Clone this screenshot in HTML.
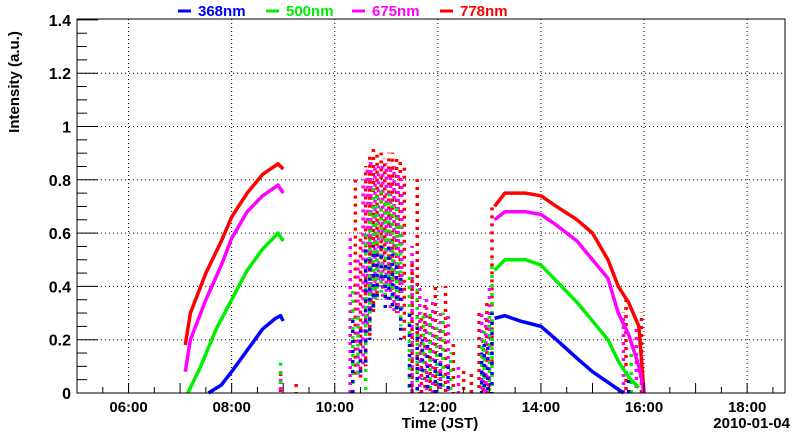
<!DOCTYPE html>
<html><head><meta charset="utf-8"><style>
body{margin:0;background:#fff;}
svg text{font-family:"Liberation Sans",sans-serif;font-weight:bold;}
</style></head><body>
<svg id="chart" width="800" height="434" xmlns="http://www.w3.org/2000/svg">
<g id="grid"></g>
<g id="data"></g>
<g id="axes"></g>
<g id="legend"></g>
<text transform="translate(19,82) rotate(-90)" text-anchor="middle" font-size="15">Intensity (a.u.)</text>
<text x="440" y="428" text-anchor="middle" font-size="15">Time (JST)</text>
<text x="790" y="428" text-anchor="end" font-size="15">2010-01-04</text>
</svg>
<script>
const series = ["368nm","500nm","675nm","778nm"];
const colors = ["#0000ff","#00ee00","#ff00ff","#ff0000"];
const yTicks = [0,0.2,0.4,0.6,0.8,1,1.2,1.4];
const yTickLabels = ["0","0.2","0.4","0.6","0.8","1","1.2","1.4"];
const xTicks = [6,8,10,12,14,16,18];
const xTickLabels = ["06:00","08:00","10:00","12:00","14:00","16:00","18:00"];
// smooth segments [time(h), value]
const blueMorning = [[7.55,0],[7.8,0.03],[8.0,0.08],[8.3,0.16],[8.6,0.24],[8.85,0.28],[8.95,0.29],[9.0,0.27]];
const greenMorning = [[7.15,0],[7.4,0.1],[7.7,0.24],[8.0,0.35],[8.3,0.46],[8.6,0.54],[8.9,0.6],[9.0,0.57]];
const magentaMorning = [[7.1,0.08],[7.2,0.2],[7.5,0.35],[7.8,0.48],[8.0,0.58],[8.3,0.68],[8.6,0.74],[8.9,0.78],[9.0,0.75]];
const redMorning = [[7.1,0.18],[7.2,0.3],[7.5,0.45],[7.8,0.57],[8.0,0.66],[8.3,0.75],[8.6,0.82],[8.9,0.86],[9.0,0.84]];
const blueAfternoon = [[13.1,0.28],[13.3,0.29],[13.6,0.27],[14.0,0.25],[14.3,0.2],[14.7,0.13],[15.0,0.08],[15.3,0.04],[15.6,0.0]];
const greenAfternoon = [[13.1,0.46],[13.3,0.5],[13.7,0.5],[14.0,0.48],[14.3,0.42],[14.7,0.34],[15.0,0.27],[15.3,0.2],[15.5,0.12],[15.7,0.06],[15.9,0.02]];
const magentaAfternoon = [[13.1,0.65],[13.3,0.68],[13.7,0.68],[14.0,0.67],[14.3,0.63],[14.7,0.57],[15.0,0.5],[15.3,0.43],[15.5,0.3],[15.7,0.22],[15.9,0.1],[16.0,0]];
const redAfternoon = [[13.1,0.7],[13.3,0.75],[13.7,0.75],[14.0,0.74],[14.3,0.7],[14.7,0.65],[15.0,0.6],[15.3,0.5],[15.5,0.4],[15.7,0.34],[15.9,0.25],[16.0,0]];
// scattered streaks [time, low, high]
const blueStreaks = [[10.35,0,0.3],[10.5,0.05,0.25],[10.6,0.1,0.55],[10.68,0.2,0.5],[10.75,0.3,0.55],[10.82,0.35,0.52],[10.9,0.4,0.55],[10.98,0.3,0.5],[11.05,0.35,0.55],[11.12,0.3,0.52],[11.2,0.3,0.5],[11.28,0.2,0.45],[11.45,0,0.3],[11.6,0,0.25],[11.7,0.05,0.2],[11.8,0,0.2],[11.95,0,0.15],[12.05,0,0.15],[12.2,0,0.1],[12.85,0,0.15],[12.9,0,0.2],[12.97,0,0.18],[13.05,0,0.3],[13.5,0.28,0.28],[15.7,0,0.05]];
const greenStreaks = [[10.35,0,0.4],[10.45,0.05,0.3],[10.6,0,0.6],[10.68,0.2,0.7],[10.75,0.3,0.78],[10.82,0.35,0.75],[10.9,0.35,0.78],[10.98,0.35,0.72],[11.05,0.4,0.75],[11.12,0.3,0.72],[11.2,0.3,0.7],[11.28,0.25,0.65],[11.45,0,0.45],[11.6,0,0.4],[11.72,0.05,0.3],[11.85,0,0.3],[11.98,0,0.25],[12.1,0,0.3],[12.25,0,0.15],[12.85,0,0.2],[12.9,0,0.25],[13.0,0,0.3],[13.05,0,0.5],[8.95,0.02,0.12],[15.75,0,0.15]];
const magentaStreaks = [[10.3,0,0.6],[10.45,0.05,0.5],[10.55,0.1,0.8],[10.63,0.2,0.85],[10.7,0.3,0.88],[10.78,0.35,0.86],[10.85,0.4,0.85],[10.93,0.35,0.87],[11.0,0.35,0.86],[11.08,0.3,0.85],[11.15,0.3,0.85],[11.23,0.3,0.82],[11.3,0.3,0.8],[11.5,0,0.55],[11.65,0,0.4],[11.78,0,0.35],[11.9,0,0.35],[12.05,0,0.3],[12.2,0,0.3],[12.4,0,0.1],[12.85,0,0.3],[12.93,0,0.28],[13.0,0,0.4],[8.95,0,0.1],[15.6,0,0.3],[15.85,0,0.25]];
const redStreaks = [[10.3,0,0.5],[10.4,0.05,0.8],[10.5,0.05,0.6],[10.6,0.1,0.85],[10.68,0.2,0.9],[10.75,0.3,0.92],[10.82,0.35,0.9],[10.9,0.4,0.9],[10.97,0.4,0.88],[11.05,0.4,0.9],[11.12,0.35,0.9],[11.2,0.3,0.88],[11.27,0.3,0.87],[11.35,0.2,0.85],[11.5,0,0.5],[11.6,0,0.8],[11.68,0,0.3],[11.75,0,0.35],[11.85,0,0.3],[11.95,0,0.4],[12.05,0,0.25],[12.15,0,0.4],[12.3,0,0.2],[12.5,0,0.1],[12.65,0,0.08],[12.8,0,0.3],[12.88,0,0.2],[12.95,0,0.35],[13.05,0.1,0.7],[8.95,0,0.08],[9.25,0,0.04],[15.65,0,0.35],[15.95,0,0.3]];

const NS="http://www.w3.org/2000/svg";
const L=77,R=785,T=19,B=393;
const X=h=>L+(h-5)*51.55;
const Y=v=>B-v*266.5;
function mk(tag,attrs,parent){const e=document.createElementNS(NS,tag);for(const k in attrs)e.setAttribute(k,attrs[k]);parent.appendChild(e);return e;}
const grid=document.getElementById('grid'),data=document.getElementById('data'),axes=document.getElementById('axes'),legend=document.getElementById('legend');
yTicks.forEach((v,i)=>{
  if(v>0&&v<1.4){const g=mk('line',{x1:L,x2:R,y1:Y(v),y2:Y(v),stroke:'#000','stroke-width':1,'stroke-dasharray':'1 3'},grid);
  
  }
  const t=mk('text',{x:L-6,y:Y(v)+6,'text-anchor':'end','font-size':16},axes);t.textContent=yTickLabels[i];
  
  
  mk('line',{x1:L,x2:L+21,y1:Y(v),y2:Y(v),stroke:'#000'},axes);
});
for(let v=0.05;v<1.4;v+=0.05){if(Math.abs(v/0.2-Math.round(v/0.2))>0.01)mk('line',{x1:L,x2:L+10,y1:Y(v),y2:Y(v),stroke:'#000'},axes);}
xTicks.forEach((h,i)=>{
  const g=mk('line',{x1:X(h),x2:X(h),y1:T,y2:B,stroke:'#000','stroke-width':1,'stroke-dasharray':'1 3'},grid);
  
  
  const t=mk('text',{x:X(h),y:412,'text-anchor':'middle','font-size':15},axes);t.textContent=xTickLabels[i];
  
  
});
for(let h=5.5;h<18.9;h+=0.5){const maj=Math.abs(h-Math.round(h))<0.01;mk('line',{x1:X(h),x2:X(h),y1:B,y2:B-(maj?10:6),stroke:'#000'},axes);}
mk('rect',{x:L,y:T,width:R-L,height:B-T,fill:'none',stroke:'#000','stroke-width':1},axes);

const smooth=[[blueMorning,blueAfternoon],[greenMorning,greenAfternoon],[magentaMorning,magentaAfternoon],[redMorning,redAfternoon]];
const streaks=[blueStreaks,greenStreaks,magentaStreaks,redStreaks];
const dashes=['3 7','3 6','3 5','3 5'];
[3,2,1,0].forEach(s=>{
  streaks[s].forEach(([h,lo,hi],j)=>{
    const e=mk('line',{x1:X(h),x2:X(h),y1:Y(lo),y2:Y(hi)-0.5,stroke:colors[s],'stroke-width':3.5,'stroke-dasharray':dashes[s],'stroke-dashoffset':(j*3)%8},data);
    
    
  });
});
[3,2,1,0].forEach(s=>{
  smooth[s].forEach(seg=>{
    const p=mk('polyline',{points:seg.map(([h,v])=>X(h)+','+Y(v)).join(' '),fill:'none',stroke:colors[s],'stroke-width':3.5,'stroke-linejoin':'round'},data);
    
    
  });
});
const lx=[178,266,352,440];
series.forEach((n,i)=>{
  mk('line',{x1:lx[i],x2:lx[i]+13,y1:11,y2:11,stroke:colors[i],'stroke-width':3},legend);
  const t=mk('text',{x:lx[i]+20,y:16,'font-size':15,fill:colors[i]},legend);t.textContent=n;
  
  
});
</script>
</body></html>
